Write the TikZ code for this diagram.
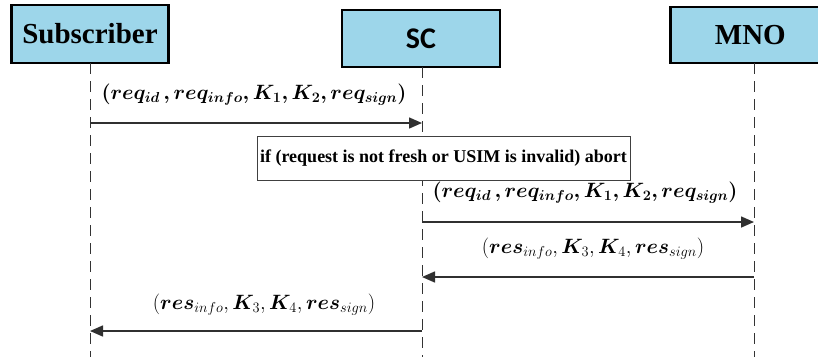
\documentclass[tikz,border=0pt]{standalone}
\usepackage{amsmath}
\usepackage{bm}
\usepackage{fontspec}
\setmainfont{Liberation Serif}
\newfontfamily\calib{Carlito}
\usetikzlibrary{arrows.meta}
\definecolor{actorfill}{HTML}{9DD6EA}
\definecolor{msgline}{HTML}{303030}
\tikzset{
  actor/.style={draw=black, line width=2.6pt, fill=actorfill, inner sep=0pt, font=\rmfamily\bfseries\fontsize{29}{32}\selectfont},
  lifeline/.style={draw=black!80, line width=1pt, dash pattern=on 11pt off 7pt},
  msg/.style={draw=msgline, line width=1.5pt, -{Triangle[length=13pt,width=11pt]}},
  msglabel/.style={inner sep=0pt, font=\fontsize{20}{24}\selectfont},
  notebox/.style={draw=black!75, line width=1pt, fill=white, inner sep=0pt, font=\rmfamily\bfseries\fontsize{18}{21}\selectfont}
}
\begin{document}
\begin{tikzpicture}[x=1pt,y=-1pt]
\useasboundingbox (0,0) rectangle (818,357);
% participants
\node[actor, minimum width=157pt, minimum height=58pt] (sub) at (90,34) {Subscriber};
\node[actor, minimum width=158pt, minimum height=57pt, font=\calib\bfseries\fontsize{30}{32}\selectfont] (sc) at (421,38.5) {SC};
\node[actor, minimum width=160pt, minimum height=56pt, anchor=west] (mno) at (669,35) {MNO};
% lifeline ends
\coordinate (subE) at (90,357);
\coordinate (scE) at (422,357);
\coordinate (mnoE) at (754,357);
\coordinate (subT) at (90,63);
\coordinate (scT) at (422,67);
\coordinate (mnoT) at (754,63);
\draw[lifeline] (subT) -- (subE);
\draw[lifeline] (scT) -- (scE);
\draw[lifeline] (mnoT) -- (mnoE);
% message anchor points on the lifelines
\coordinate (m1a) at (90,123);  \coordinate (m1b) at (422,123);
\coordinate (m2a) at (422,222); \coordinate (m2b) at (754,222);
\coordinate (m3a) at (754,277); \coordinate (m3b) at (422,277);
\coordinate (m4a) at (422,331); \coordinate (m4b) at (90,331);
\draw[msg] (m1a) -- (m1b);
\draw[msg] (m2a) -- (m2b);
\draw[msg] (m3a) -- (m3b);
\draw[msg] (m4a) -- (m4b);
% message labels
\node[msglabel] (l1) at (254,95) {$\bm{(req_{id}\,, req_{info}, K_1, K_2, req_{sign})}$};
\node[msglabel] (l2) at (585,193) {$\bm{(req_{id}\,, req_{info}, K_1, K_2, req_{sign})}$};
\node[msglabel] (l3) at (593,249) {$(\bm{res}_{info}, \bm{K}_3, \bm{K}_4, \bm{res}_{sign})$};
\node[msglabel] (l4) at (264,305) {$(\bm{res}_{info}, \bm{K}_3, \bm{K}_4, \bm{res}_{sign})$};
% validity check
\node[notebox, minimum width=373pt, minimum height=44pt] (chk) at (443.5,158) {if (request is not fresh or USIM is invalid) abort};
\end{tikzpicture}
\end{document}
